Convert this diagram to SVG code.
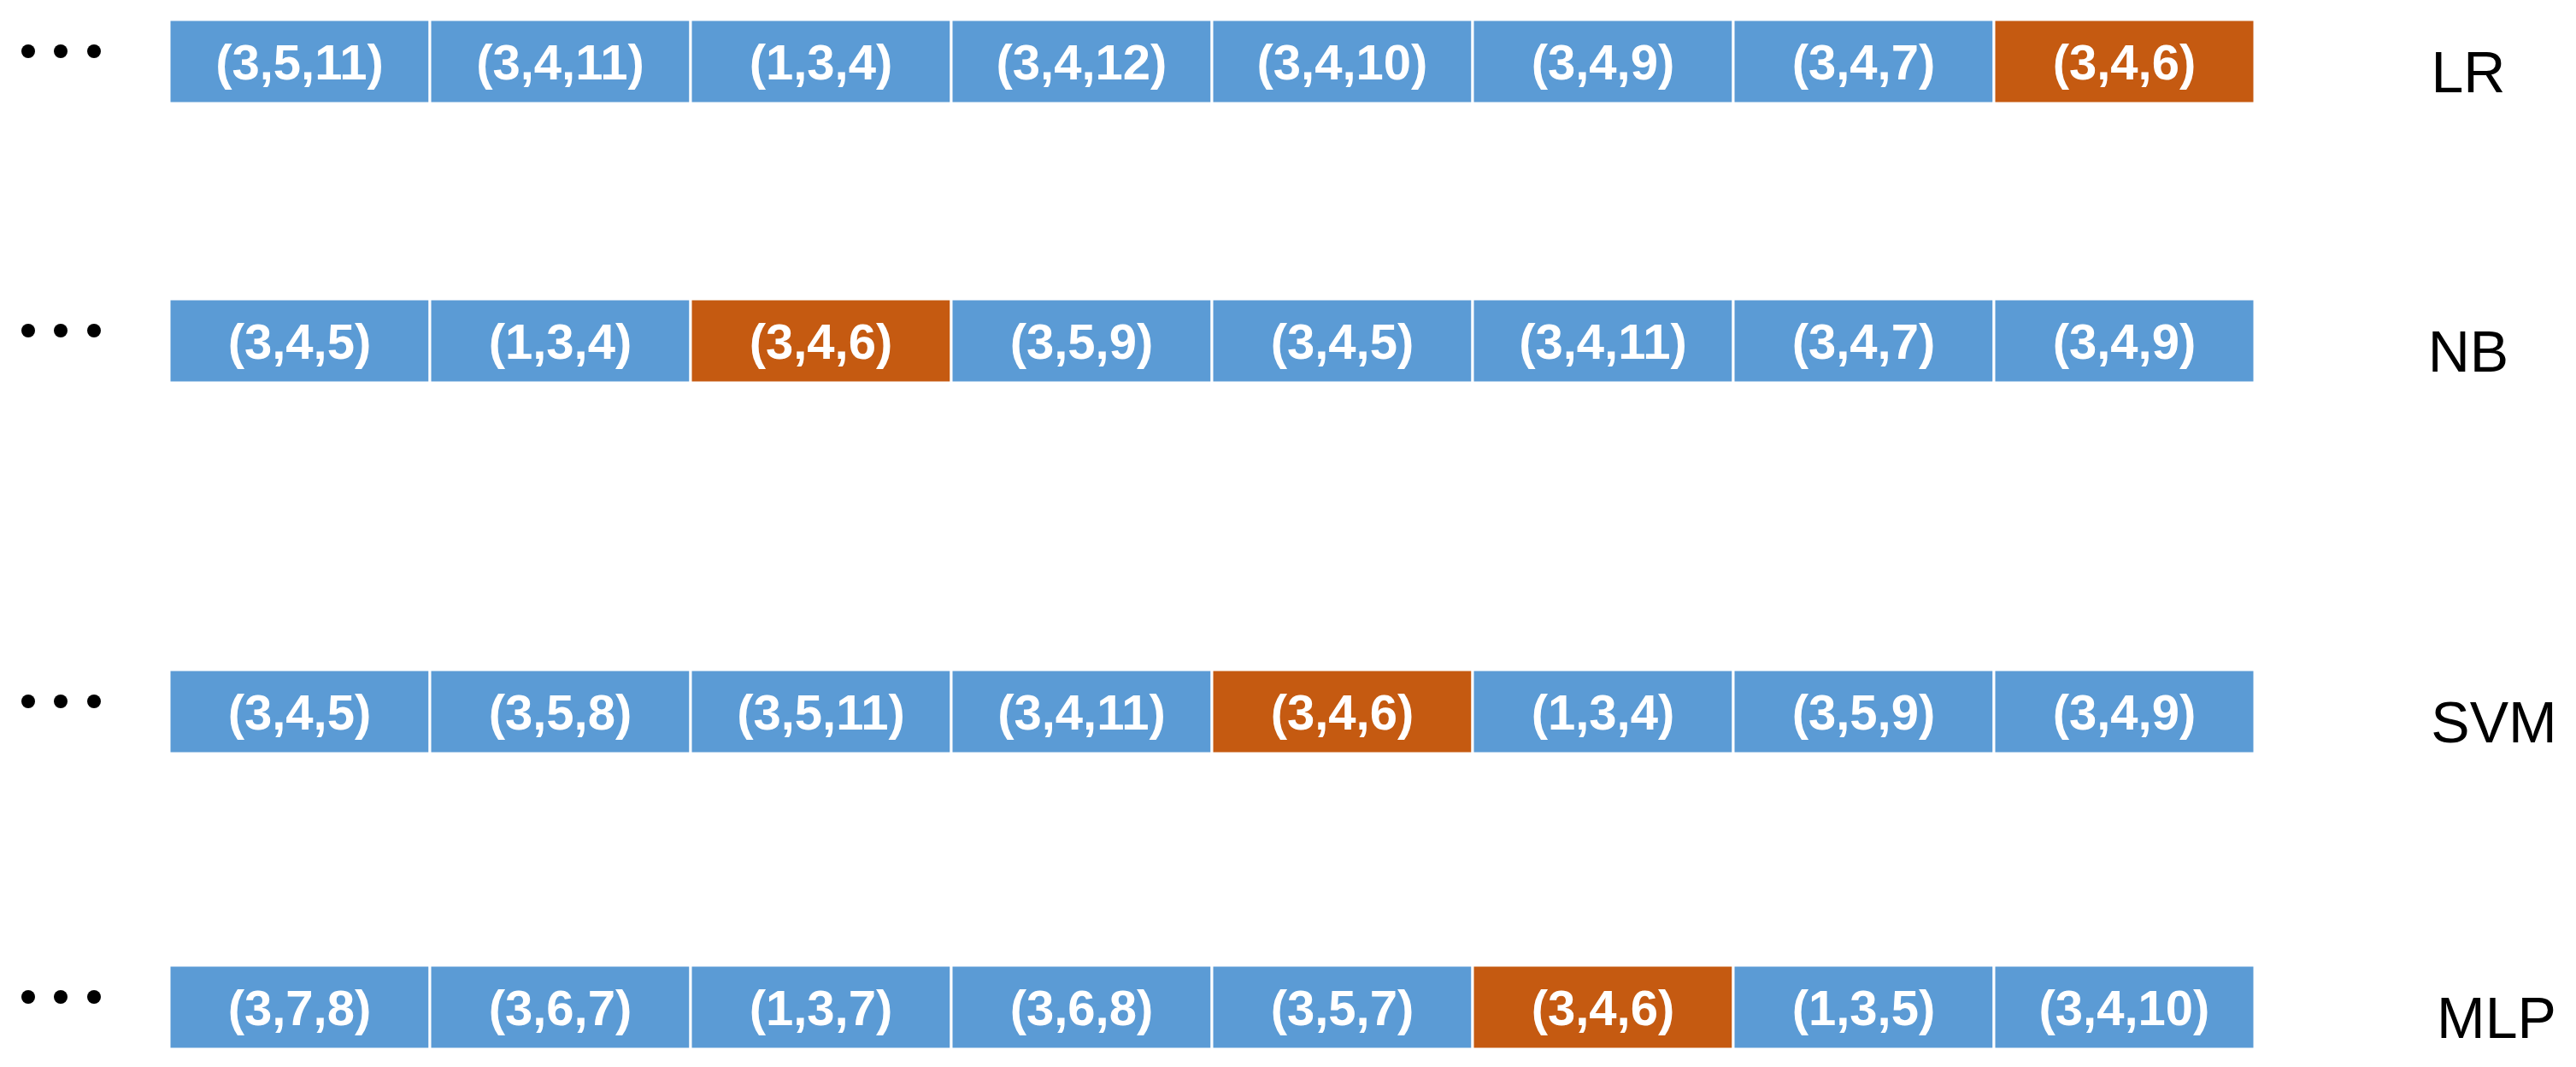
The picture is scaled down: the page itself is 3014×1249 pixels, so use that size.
<svg xmlns="http://www.w3.org/2000/svg" width="3014" height="1249" viewBox="0 0 3014 1249">
<style>
.b{fill:#5B9BD5;stroke:#ffffff;stroke-width:3}
.o{fill:#C55A11;stroke:#ffffff;stroke-width:3}
.t{font-family:"Liberation Sans",Arial,sans-serif;font-weight:bold;font-size:58px;fill:#ffffff;text-anchor:middle;dominant-baseline:central}
.l{font-family:"Liberation Sans",Arial,sans-serif;font-size:68px;fill:#000000;text-anchor:middle;dominant-baseline:central}
.d{fill:#000000}
</style>
<rect width="3014" height="1249" fill="#ffffff"/>
<g id="row-LR">
<g class="d"><circle cx="33" cy="60" r="8"/><circle cx="71" cy="60" r="8"/><circle cx="110" cy="60" r="8"/></g>
<g id="lr1"><rect class="b" x="198" y="23" width="305" height="98"/><text class="t" x="350.5" y="72">(3,5,11)</text></g>
<g id="lr2"><rect class="b" x="503" y="23" width="305" height="98"/><text class="t" x="655.5" y="72">(3,4,11)</text></g>
<g id="lr3"><rect class="b" x="808" y="23" width="305" height="98"/><text class="t" x="960.5" y="72">(1,3,4)</text></g>
<g id="lr4"><rect class="b" x="1113" y="23" width="305" height="98"/><text class="t" x="1265.5" y="72">(3,4,12)</text></g>
<g id="lr5"><rect class="b" x="1418" y="23" width="305" height="98"/><text class="t" x="1570.5" y="72">(3,4,10)</text></g>
<g id="lr6"><rect class="b" x="1723" y="23" width="305" height="98"/><text class="t" x="1875.5" y="72">(3,4,9)</text></g>
<g id="lr7"><rect class="b" x="2028" y="23" width="305" height="98"/><text class="t" x="2180.5" y="72">(3,4,7)</text></g>
<g id="lr8"><rect class="o" x="2333" y="23" width="305" height="98"/><text class="t" x="2485.5" y="72">(3,4,6)</text></g>
<text class="l" x="2888" y="84">LR</text>
</g>
<g id="row-NB">
<g class="d"><circle cx="33" cy="387" r="8"/><circle cx="71" cy="387" r="8"/><circle cx="110" cy="387" r="8"/></g>
<g id="nb1"><rect class="b" x="198" y="350" width="305" height="98"/><text class="t" x="350.5" y="399">(3,4,5)</text></g>
<g id="nb2"><rect class="b" x="503" y="350" width="305" height="98"/><text class="t" x="655.5" y="399">(1,3,4)</text></g>
<g id="nb3"><rect class="o" x="808" y="350" width="305" height="98"/><text class="t" x="960.5" y="399">(3,4,6)</text></g>
<g id="nb4"><rect class="b" x="1113" y="350" width="305" height="98"/><text class="t" x="1265.5" y="399">(3,5,9)</text></g>
<g id="nb5"><rect class="b" x="1418" y="350" width="305" height="98"/><text class="t" x="1570.5" y="399">(3,4,5)</text></g>
<g id="nb6"><rect class="b" x="1723" y="350" width="305" height="98"/><text class="t" x="1875.5" y="399">(3,4,11)</text></g>
<g id="nb7"><rect class="b" x="2028" y="350" width="305" height="98"/><text class="t" x="2180.5" y="399">(3,4,7)</text></g>
<g id="nb8"><rect class="b" x="2333" y="350" width="305" height="98"/><text class="t" x="2485.5" y="399">(3,4,9)</text></g>
<text class="l" x="2888" y="411">NB</text>
</g>
<g id="row-SVM">
<g class="d"><circle cx="33" cy="821" r="8"/><circle cx="71" cy="821" r="8"/><circle cx="110" cy="821" r="8"/></g>
<g id="svm1"><rect class="b" x="198" y="784" width="305" height="98"/><text class="t" x="350.5" y="833">(3,4,5)</text></g>
<g id="svm2"><rect class="b" x="503" y="784" width="305" height="98"/><text class="t" x="655.5" y="833">(3,5,8)</text></g>
<g id="svm3"><rect class="b" x="808" y="784" width="305" height="98"/><text class="t" x="960.5" y="833">(3,5,11)</text></g>
<g id="svm4"><rect class="b" x="1113" y="784" width="305" height="98"/><text class="t" x="1265.5" y="833">(3,4,11)</text></g>
<g id="svm5"><rect class="o" x="1418" y="784" width="305" height="98"/><text class="t" x="1570.5" y="833">(3,4,6)</text></g>
<g id="svm6"><rect class="b" x="1723" y="784" width="305" height="98"/><text class="t" x="1875.5" y="833">(1,3,4)</text></g>
<g id="svm7"><rect class="b" x="2028" y="784" width="305" height="98"/><text class="t" x="2180.5" y="833">(3,5,9)</text></g>
<g id="svm8"><rect class="b" x="2333" y="784" width="305" height="98"/><text class="t" x="2485.5" y="833">(3,4,9)</text></g>
<text class="l" x="2918" y="845">SVM</text>
</g>
<g id="row-MLP">
<g class="d"><circle cx="33" cy="1167" r="8"/><circle cx="71" cy="1167" r="8"/><circle cx="110" cy="1167" r="8"/></g>
<g id="mlp1"><rect class="b" x="198" y="1130" width="305" height="98"/><text class="t" x="350.5" y="1179">(3,7,8)</text></g>
<g id="mlp2"><rect class="b" x="503" y="1130" width="305" height="98"/><text class="t" x="655.5" y="1179">(3,6,7)</text></g>
<g id="mlp3"><rect class="b" x="808" y="1130" width="305" height="98"/><text class="t" x="960.5" y="1179">(1,3,7)</text></g>
<g id="mlp4"><rect class="b" x="1113" y="1130" width="305" height="98"/><text class="t" x="1265.5" y="1179">(3,6,8)</text></g>
<g id="mlp5"><rect class="b" x="1418" y="1130" width="305" height="98"/><text class="t" x="1570.5" y="1179">(3,5,7)</text></g>
<g id="mlp6"><rect class="o" x="1723" y="1130" width="305" height="98"/><text class="t" x="1875.5" y="1179">(3,4,6)</text></g>
<g id="mlp7"><rect class="b" x="2028" y="1130" width="305" height="98"/><text class="t" x="2180.5" y="1179">(1,3,5)</text></g>
<g id="mlp8"><rect class="b" x="2333" y="1130" width="305" height="98"/><text class="t" x="2485.5" y="1179">(3,4,10)</text></g>
<text class="l" x="2921" y="1191">MLP</text>
</g>
</svg>
